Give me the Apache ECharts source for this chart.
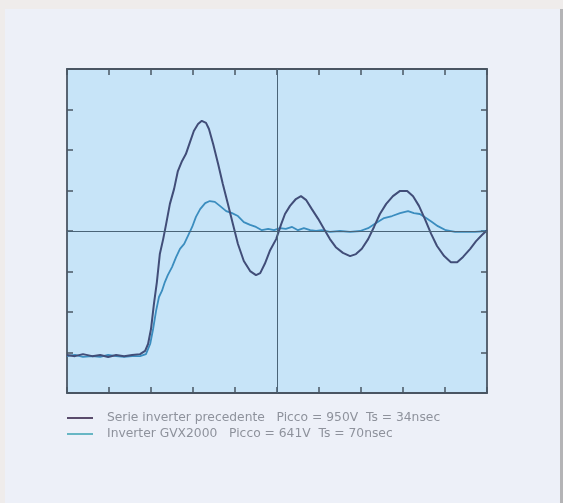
<!DOCTYPE html>
<html>
<head>
<meta charset="utf-8">
<script src="https://cdn.jsdelivr.net/npm/echarts@6/dist/echarts.min.js"></script>
<style>
  html, body { margin: 0; padding: 0; }
  body { width: 563px; height: 503px; background: #efeceb; position: relative; overflow: hidden; }
  #panel { position: absolute; left: 5px; top: 9px; width: 555px; height: 494px; background: #edf0f8; border-right: 3px solid #b4b4b6; }
  #chart { position: absolute; left: 0; top: 0; width: 563px; height: 503px; }
</style>
</head>
<body>
<div id="panel"></div>
<div id="chart"></div>
<script>
// Time in divisions (10 across), voltage in divisions (8 tall, 0 = centre line)
const seriesNames = [
  'Serie inverter precedente   Picco = 950V  Ts = 34nsec',
  'Inverter GVX2000   Picco = 641V  Ts = 70nsec'
];

const oldInverterX = [0, 0.19, 0.38, 0.6, 0.79, 0.98, 1.17, 1.36, 1.55, 1.74, 1.86, 1.93, 2.0, 2.07, 2.14, 2.21, 2.29, 2.36, 2.45, 2.55, 2.64, 2.74, 2.83, 2.93, 3.02, 3.12, 3.21, 3.31, 3.38, 3.48, 3.6, 3.71, 3.83, 3.95, 4.07, 4.21, 4.36, 4.5, 4.6, 4.71, 4.83, 4.98, 5.1, 5.19, 5.31, 5.45, 5.57, 5.69, 5.83, 5.98, 6.12, 6.26, 6.4, 6.57, 6.74, 6.88, 7.02, 7.17, 7.31, 7.45, 7.6, 7.76, 7.93, 8.1, 8.24, 8.38, 8.52, 8.67, 8.81, 8.98, 9.14, 9.29, 9.43, 9.6, 9.74, 9.88, 10];
const oldInverterY = [-3.06, -3.09, -3.04, -3.09, -3.06, -3.11, -3.06, -3.09, -3.06, -3.04, -2.96, -2.79, -2.42, -1.80, -1.26, -0.57, -0.20, 0.17, 0.67, 1.04, 1.48, 1.73, 1.90, 2.20, 2.47, 2.64, 2.72, 2.67, 2.52, 2.15, 1.65, 1.16, 0.67, 0.17, -0.32, -0.74, -0.99, -1.09, -1.04, -0.81, -0.49, -0.20, 0.17, 0.42, 0.62, 0.79, 0.86, 0.77, 0.54, 0.30, 0.05, -0.20, -0.40, -0.54, -0.62, -0.57, -0.44, -0.20, 0.10, 0.42, 0.67, 0.86, 0.99, 0.99, 0.86, 0.62, 0.30, -0.07, -0.37, -0.62, -0.77, -0.77, -0.64, -0.44, -0.25, -0.10, 0.02];

const gvxX = [0, 0.19, 0.38, 0.6, 0.79, 0.98, 1.17, 1.36, 1.55, 1.74, 1.88, 1.98, 2.05, 2.12, 2.19, 2.26, 2.33, 2.4, 2.5, 2.6, 2.69, 2.79, 2.88, 2.98, 3.07, 3.17, 3.29, 3.4, 3.52, 3.64, 3.79, 3.93, 4.07, 4.21, 4.36, 4.5, 4.64, 4.79, 4.93, 5.07, 5.21, 5.36, 5.5, 5.64, 5.79, 5.93, 6.07, 6.26, 6.5, 6.74, 6.98, 7.17, 7.36, 7.55, 7.74, 7.93, 8.12, 8.26, 8.4, 8.55, 8.69, 8.83, 9.02, 9.24, 9.48, 9.71, 10];
const gvxY = [-3.09, -3.06, -3.11, -3.09, -3.11, -3.06, -3.09, -3.11, -3.09, -3.09, -3.04, -2.79, -2.42, -1.98, -1.63, -1.48, -1.26, -1.09, -0.89, -0.64, -0.44, -0.32, -0.12, 0.10, 0.35, 0.54, 0.69, 0.74, 0.72, 0.62, 0.49, 0.44, 0.37, 0.22, 0.15, 0.10, 0.02, 0.05, 0.02, 0.07, 0.05, 0.10, 0.02, 0.07, 0.02, 0, 0.02, -0.02, 0, -0.02, 0, 0.07, 0.20, 0.32, 0.37, 0.44, 0.49, 0.44, 0.42, 0.32, 0.22, 0.12, 0.02, -0.02, -0.02, -0.02, 0];

const zip = (xs, ys) => xs.map((x, i) => [x, ys[i]]);

const tickStyle = { show: true, inside: true, length: 6, lineStyle: { color: '#4a5563', width: 1.5 } };
const frameLine = { show: true, onZero: false, lineStyle: { color: '#4a5563', width: 1.8 } };

function xAx(pos) {
  return { type: 'value', position: pos, min: 0, max: 10, interval: 1,
    axisLine: frameLine, axisTick: tickStyle, axisLabel: { show: false }, splitLine: { show: false } };
}
function yAx(pos) {
  return { type: 'value', position: pos, min: -4, max: 4, interval: 1,
    axisLine: frameLine, axisTick: tickStyle, axisLabel: { show: false }, splitLine: { show: false } };
}

const chart = echarts.init(document.getElementById('chart'), null, { renderer: 'canvas' });
chart.setOption({
  animation: false,
  backgroundColor: 'transparent',
  grid: { left: 67, top: 69, right: 76, bottom: 110, show: true, backgroundColor: '#c7e4f8', borderWidth: 0 },
  xAxis: [xAx('bottom'), xAx('top')],
  yAxis: [yAx('left'), yAx('right')],
  legend: {
    orient: 'vertical', left: 62, top: 407, itemWidth: 26, itemHeight: 2, itemGap: 4,
    icon: 'rect',
    textStyle: { color: '#8e929c', fontSize: 12.3, fontFamily: 'DejaVu Sans, sans-serif', padding: [0, 0, 0, 9] },
    data: [
      { name: seriesNames[0], itemStyle: { color: '#5a4b6c' } },
      { name: seriesNames[1], itemStyle: { color: '#67b6c4' } }
    ]
  },
  series: [
    {
      name: seriesNames[1], type: 'line', data: zip(gvxX, gvxY), showSymbol: false,
      lineStyle: { color: '#3b8dbf', width: 1.8 }, itemStyle: { color: '#3b8dbf' },
      markLine: {
        silent: true, symbol: 'none', label: { show: false },
        lineStyle: { color: '#4a6478', width: 1, type: 'solid' },
        data: [{ xAxis: 5 }, { yAxis: 0 }]
      }
    },
    {
      name: seriesNames[0], type: 'line', data: zip(oldInverterX, oldInverterY), showSymbol: false,
      lineStyle: { color: '#414d78', width: 2 }, itemStyle: { color: '#414d78' }
    }
  ]
});
</script>
</body>
</html>
